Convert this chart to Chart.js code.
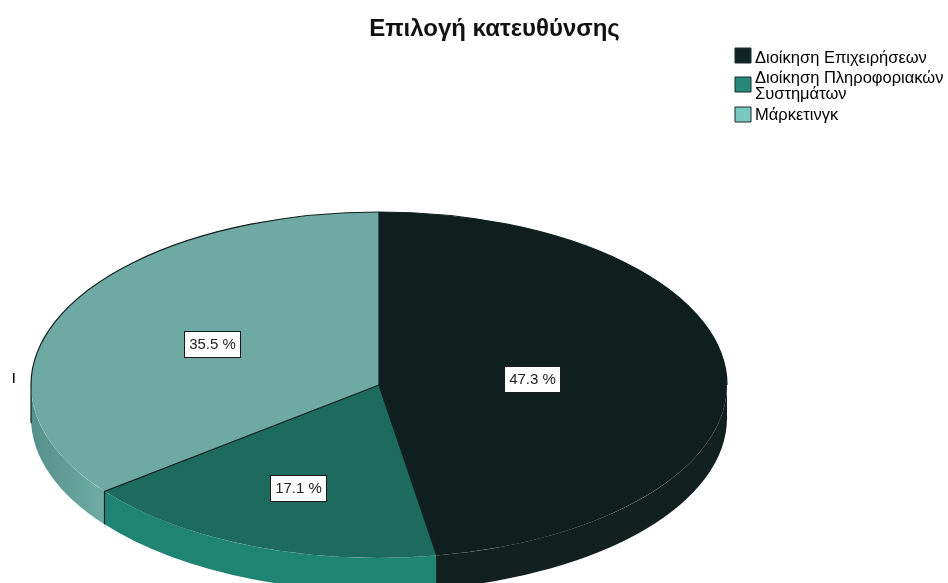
<!DOCTYPE html>
<html><head><meta charset="utf-8">
<style>html,body{margin:0;padding:0;background:#fff}canvas{display:block}</style>
<script src="https://cdn.jsdelivr.net/npm/chart.js@4"></script></head>
<body><div style="width:948px;height:583px"><canvas id="c" width="948" height="583"></canvas></div>
<script>
const chartTitle = 'Επιλογή κατευθύνσης';
const categories = ['Διοίκηση Επιχειρήσεων', 'Διοίκηση Πληροφοριακών\nΣυστημάτων', 'Μάρκετινγκ'];
const percentages = [47.3, 17.1, 35.5];
const topColors = ['#0e1f1e', '#1c6b5e', '#6fa9a3'];
const wallColors = ['#12211f', '#1f8472', '#6aa9a1'];
const legendColors = ['#0f2523', '#27897a', '#79c9c3'];

const GEO = { cx: 379, cy: 385, rx: 348, ry: 173, depth: 33, labelFrac: [0.44, 0.64, 0.535] };
const LEGEND = { boxLeft: 735, textLeft: 755, boxTops: [48, 77, 107], textCentres: [58, 78, 115], font: 16.5, lineStep: 16 };

const pie3d = {
  id: 'pie3d',
  afterLayout(chart) {
    const t = chart.titleBlock;
    t.left = 369; t.right = 620;
    const l = chart.legend;
    if (l._rowsPatched) return;
    l._rowsPatched = true;
    const baseDraw = l.draw;
    // The library's legend uses one fixed row step; draw each box and text through it separately
    l.draw = function (area) {
      const items = this.legendItems, saved = [this.left, this.right, this.top, this.bottom];
      const pad = this.options.labels.padding, fs = LEGEND.font, bw = this.options.labels.boxWidth;
      const itemH = Math.max(fs, this.options.labels.boxHeight);
      items.forEach((it, i) => {
        // swatch
        this.legendItems = [Object.assign({}, it, { text: '' })];
        this.left = LEGEND.boxLeft - pad; this.right = 948;
        this.top = LEGEND.boxTops[i] - Math.max((fs - this.options.labels.boxHeight) / 2, 0) - pad; this.bottom = 583;
        baseDraw.call(this, area);
        // text
        this.legendItems = [Object.assign({}, it, { fillStyle: 'rgba(0,0,0,0)', strokeStyle: 'rgba(0,0,0,0)', lineWidth: 0 })];
        this.left = LEGEND.textLeft - bw - fs / 2 - pad;
        this.top = LEGEND.textCentres[i] - itemH / 2 - pad;
        baseDraw.call(this, area);
      });
      this.legendItems = items;
      [this.left, this.right, this.top, this.bottom] = saved;
    };
  },
  beforeDatasetDraw(chart) {
    const ctx = chart.ctx, arcs = chart.getDatasetMeta(0).data;
    const { cx, cy, rx, ry, depth } = GEO;
    ctx.save();
    arcs.forEach((a, i) => {
      const s = Math.max(a.startAngle, 0), e = Math.min(a.endAngle, Math.PI);
      if (e <= s) return;
      ctx.beginPath();
      ctx.ellipse(cx, cy, rx, ry, 0, s, e);
      ctx.ellipse(cx, cy + depth, rx, ry, 0, e, s, true);
      ctx.closePath();
      if (i === 2) {
        const g = ctx.createLinearGradient(cx - rx, 0, cx - 270, 0);
        g.addColorStop(0, '#55908a');
        g.addColorStop(1, '#70aea6');
        ctx.fillStyle = g;
      } else ctx.fillStyle = wallColors[i];
      ctx.fill();
    });
    ctx.restore();
    ctx.save();
    const a0 = arcs[0];
    ctx.translate(cx, cy);
    ctx.scale(1, ry / rx);
    ctx.translate(-a0.x, -a0.y);
  },
  afterDatasetDraw(chart) {
    const ctx = chart.ctx, arcs = chart.getDatasetMeta(0).data;
    ctx.restore();
    const { cx, cy, rx, ry, depth } = GEO;
    ctx.save();
    ctx.strokeStyle = '#10201e';
    ctx.lineWidth = 1.2;
    ctx.beginPath();
    ctx.ellipse(cx, cy, rx, ry, 0, Math.PI, Math.PI * 2);
    ctx.stroke();
    arcs.forEach(a => {
      const px = cx + rx * Math.cos(a.startAngle), py = cy + ry * Math.sin(a.startAngle);
      ctx.beginPath(); ctx.moveTo(cx, cy); ctx.lineTo(px, py);
      if (a.startAngle > 0 && a.startAngle < Math.PI) ctx.lineTo(px, py + depth);
      ctx.stroke();
    });
    // left wall edge
    ctx.beginPath();
    ctx.ellipse(cx, cy + depth, rx, ry, 0, Math.PI - 0.03, Math.PI);
    ctx.lineTo(cx - rx, cy);
    ctx.stroke();
    // small stray tick at the left of the plot
    ctx.fillStyle = '#000';
    ctx.fillRect(13, 373, 1.5, 10);
    // labels
    ctx.font = '15px "Liberation Sans"';
    ctx.textAlign = 'center'; ctx.textBaseline = 'middle';
    arcs.forEach((a, i) => {
      const mid = (a.startAngle + a.endAngle) / 2, f = GEO.labelFrac[i];
      const x = cx + rx * f * Math.cos(mid), y = cy + ry * f * Math.sin(mid);
      const w = 56, h = 26;
      const bx = Math.round(x - w / 2), by = Math.round(y - h / 2);
      ctx.fillStyle = '#fff';
      ctx.fillRect(bx, by, w, h);
      ctx.strokeStyle = '#1a1a1a'; ctx.lineWidth = 1;
      ctx.strokeRect(bx + .5, by + .5, w, h);
      ctx.fillStyle = '#222';
      ctx.fillText(percentages[i].toFixed(1) + ' %', bx + w / 2 + .5, by + h / 2 + 1);
    });
    ctx.restore();
  }
};

new Chart(document.getElementById('c'), {
  type: 'pie',
  data: {
    labels: categories,
    datasets: [{ data: percentages, backgroundColor: topColors, borderWidth: 0, radius: GEO.rx, clip: false }]
  },
  plugins: [pie3d],
  options: {
    responsive: false, animation: false,
    layout: { padding: 0 },
    plugins: {
      tooltip: { enabled: false },
      title: {
        display: true, text: chartTitle, color: '#111', align: 'center',
        font: { family: '"Liberation Sans"', size: 24, weight: 'bold' },
        padding: { top: 15, bottom: 10 }
      },
      legend: {
        display: true, position: 'top', align: 'start', fullSize: false,
        labels: {
          color: '#222', boxWidth: 16, boxHeight: 15, padding: 5,
          font: { family: '"Liberation Sans"', size: LEGEND.font, lineHeight: LEGEND.lineStep + 'px' },
          generateLabels: () => categories.map((c, i) => ({
            text: c.includes('\n') ? c.split('\n') : c, fillStyle: legendColors[i], strokeStyle: '#1a2a28', lineWidth: 1, hidden: false, index: i
          }))
        }
      }
    }
  }
});
</script></body></html>
